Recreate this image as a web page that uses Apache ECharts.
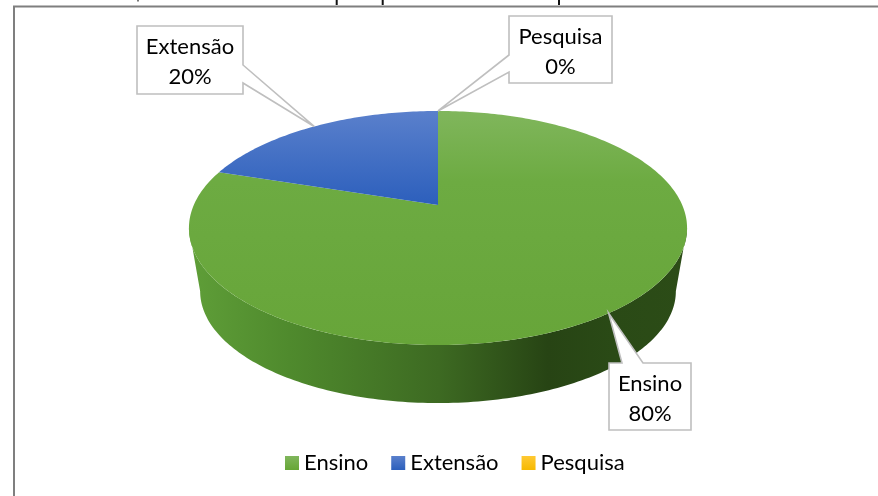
<!DOCTYPE html>
<html><head><meta charset="utf-8">
<style>html,body{margin:0;padding:0;background:#fff}#c{width:878px;height:496px}</style>
<script src="https://cdn.jsdelivr.net/npm/echarts@6/dist/echarts.min.js"></script>
</head><body><div id="c"></div>
<script>
const categories = ['Ensino', 'Extensão', 'Pesquisa'];
const values = [80, 20, 0];
const percentLabels = ['80%', '20%', '0%'];

const FONT = 'Lato';
const pie = {cx: 438, apexY: 205, rx: 244.2, ry: 112.5, k: -0.1966, depth: 58, baseScale: 0.955};
const boxes = [
  {x: 609, y: 363, w: 82, h: 67, side: 'top', a: 13, b: 34},
  {x: 137, y: 26, w: 106, h: 68, side: 'right', a: 39, b: 57},
  {x: 509, y: 16, w: 103, h: 67, side: 'left', a: 39, b: 56}
];
const croppedStrokes = [[336.7, 5], [382.7, 5], [559, 5]];
const G = (x0, y0, x1, y1, stops, global) => new echarts.graphic.LinearGradient(x0, y0, x1, y1,
  stops.map((c) => ({offset: c[0], color: c[1]})), global);
const fills = [
  G(438, 111, 438, 345, [[0, '#80b65c'], [0.3, '#6dab42'], [1, '#67a539']], true),
  G(438, 111, 438, 205, [[0, '#5a80cc'], [1, '#2c5fbc']], true),
  '#ffc000'
];
const legendFills = [
  G(0, 0, 0, 1, [[0, '#80b65c'], [1, '#66a636']]),
  G(0, 0, 0, 1, [[0, '#5a80cc'], [1, '#2c5fbc']]),
  G(0, 0, 0, 1, [[0, '#ffc933'], [1, '#f6b900']])
];
const wallFill = G(190, 0, 687, 0, [
  [0, '#5f9e38'], [0.2, '#4f8a2d'], [0.5, '#3d6a22'], [0.72, '#274414'], [0.85, '#2a4a16'], [1, '#2c4c17']
], true);

function rim(deg, scale, baseY) {
  const t = deg * Math.PI / 180, u = Math.sin(t), v = -Math.cos(t), d = 1 + pie.k * v;
  return [pie.cx + scale * pie.rx * u / d, baseY + scale * pie.ry * v / d];
}
function sweep(a, b, scale, baseY) {
  const pts = [], n = Math.max(2, Math.ceil(Math.abs(b - a)));
  for (let i = 0; i <= n; i++) pts.push(rim(a + (b - a) * i / n, scale, baseY));
  return pts;
}
const total = values.reduce((s, v) => s + v, 0);
const wallFrom = Math.acos(pie.k) * 180 / Math.PI, wallTo = 360 - wallFrom;

function calloutPoints(box, tip) {
  const {x, y, w, h, side, a, b} = box;
  const r = x + w, btm = y + h;
  if (side === 'top') return [[x, y], [x + a, y], tip, [x + b, y], [r, y], [r, btm], [x, btm]];
  if (side === 'right') return [[x, y], [r, y], [r, y + a], tip, [r, y + b], [r, btm], [x, btm]];
  return [[x, y], [r, y], [r, btm], [x, btm], [x, y + b], tip, [x, y + a]];
}

function renderSlice(idx) {
  return function (params, api) {
    const value = api.value(0);
    const before = values.slice(0, idx).reduce((s, v) => s + v, 0);
    const a0 = before / total * 360, a1 = (before + value) / total * 360;
    const children = [];
    const baseY = pie.apexY + 140 * (1 - pie.baseScale) + pie.depth;
    const wa = Math.max(a0, wallFrom), wb = Math.min(a1, wallTo);
    if (wb > wa) {
      const pts = sweep(wa, wb, 1, pie.apexY).concat(sweep(wb, wa, pie.baseScale, baseY));
      children.push({type: 'polygon', shape: {points: pts}, style: {fill: wallFill}});
    }
    if (a1 > a0) {
      const pts = [[pie.cx, pie.apexY]].concat(sweep(a0, a1, 1, pie.apexY));
      children.push({type: 'polygon', shape: {points: pts}, style: {fill: fills[idx]}});
    }
    const tip = rim((a0 + a1) / 2, 1, pie.apexY);
    const box = boxes[idx];
    children.push({type: 'polygon', z2: 10, shape: {points: calloutPoints(box, tip)},
      style: {fill: '#fff', stroke: '#bfbfbf', lineWidth: 1.6}});
    children.push({type: 'text', z2: 11, style: {
      x: box.x + box.w / 2, y: box.y + box.h / 2 + 2,
      text: categories[idx] + '\n' + percentLabels[idx],
      align: 'center', verticalAlign: 'middle',
      font: '22px ' + FONT, lineHeight: 30, fill: '#000'}});
    return {type: 'group', children};
  };
}

const chart = echarts.init(document.getElementById('c'), null, {renderer: 'canvas'});
chart.setOption({
  animation: false,
  backgroundColor: '#fff',
  legend: {
    left: 280, top: 447, icon: 'rect', itemWidth: 14, itemHeight: 14, itemGap: 23,
    textStyle: {fontFamily: FONT, fontSize: 22, color: '#000'},
    data: categories.map((name, i) => ({name, itemStyle: {color: legendFills[i]}}))
  },
  graphic: [
    {type: 'rect', silent: true, z: -1, shape: {x: 14, y: 6.5, width: 900, height: 520},
      style: {fill: 'none', stroke: '#7f7f7f', lineWidth: 2}},
    {type: 'rect', silent: true, shape: {x: 137, y: 0, width: 2, height: 1.5}, style: {fill: '#777'}}
  ].concat(croppedStrokes.map(s => ({type: 'rect', silent: true,
    shape: {x: s[0] - 1, y: 0, width: 2, height: s[1]}, style: {fill: '#111'}}))),
  series: categories.map((name, i) => ({
    type: 'custom', name, coordinateSystem: 'none', silent: true,
    itemStyle: {color: legendFills[i]},
    renderItem: renderSlice(i),
    data: [[values[i]]]
  }))
});
</script></body></html>
